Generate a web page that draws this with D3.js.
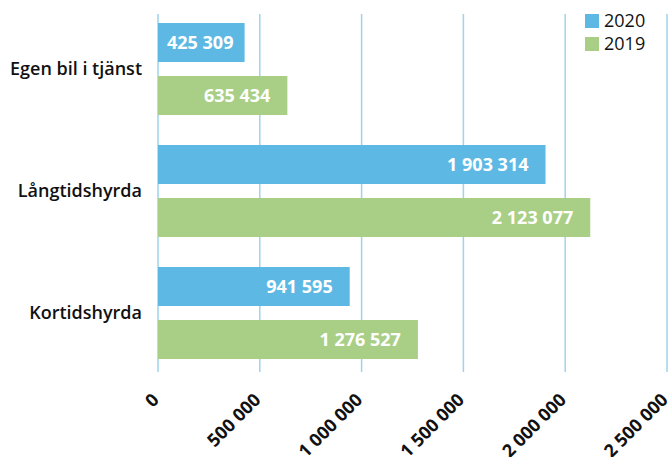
<!DOCTYPE html>
<html>
<head>
<meta charset="utf-8">
<script src="https://cdn.jsdelivr.net/npm/d3@7"></script>
<style>
  body { margin: 0; background: #fff; }
  text { font-family: "Open Sans", Lato, sans-serif; }
</style>
</head>
<body>
<div id="chart"></div>
<script>
// data
var categories = ["Egen bil i tjänst", "Långtidshyrda", "Kortidshyrda"];
var seriesNames = ["2020", "2019"];
var values2020 = [425309, 1903314, 941595];
var values2019 = [635434, 2123077, 1276527];
var tickValues = [0, 500000, 1000000, 1500000, 2000000, 2500000];

var width = 668, height = 457;
var colors = { "2020": "#5db9e3", "2019": "#a9cf87" };

var svg = d3.select("#chart").append("svg")
    .attr("width", width)
    .attr("height", height);

var x = d3.scaleLinear()
    .domain([0, 2500000])
    .range([158, 667]);

var y0 = d3.scaleBand()
    .domain(categories)
    .range([8, 374])
    .paddingInner(0.246)
    .paddingOuter(0.123);

var y1 = d3.scaleBand()
    .domain(seriesNames)
    .range([0, y0.bandwidth()])
    .paddingInner(0.264);

var fmt = function(v) { return d3.format(",")(v).replace(/,/g, " "); };

// gridlines
svg.append("g").selectAll("line")
    .data(tickValues)
  .enter().append("line")
    .attr("x1", function(d) { return x(d); })
    .attr("x2", function(d) { return x(d); })
    .attr("y1", 14)
    .attr("y2", 372)
    .attr("stroke", "#9fd3ea")
    .attr("stroke-width", 1.5);

// tick labels
svg.append("g").selectAll("text")
    .data(tickValues)
  .enter().append("text")
    .attr("transform", function(d) { return "translate(" + (x(d) + 2) + ",401) rotate(-45)"; })
    .attr("text-anchor", "end")
    .attr("font-size", 18)
    .attr("font-weight", "bold")
    .attr("fill", "#111")
    .text(fmt);

// bars
var rows = [];
categories.forEach(function(c, i) {
  rows.push({ cat: c, series: "2020", value: values2020[i] });
  rows.push({ cat: c, series: "2019", value: values2019[i] });
});

var bar = svg.append("g").selectAll("g")
    .data(rows)
  .enter().append("g");

bar.append("rect")
    .attr("x", x(0))
    .attr("y", function(d) { return y0(d.cat) + y1(d.series); })
    .attr("width", function(d) { return x(d.value) - x(0); })
    .attr("height", y1.bandwidth())
    .attr("fill", function(d) { return colors[d.series]; });

bar.append("text")
    .attr("y", function(d) { return y0(d.cat) + y1(d.series) + y1.bandwidth() / 2; })
    .attr("dy", "0.35em")
    .attr("text-anchor", "end")
    .attr("font-size", 18)
    .attr("font-weight", "bold")
    .attr("fill", "#fff")
    .text(function(d) { return fmt(d.value); })
    .attr("x", function(d) {
      var w = this.getComputedTextLength();
      return Math.max(x(d.value) - 17, x(0) + 9 + w);
    });

// category labels
svg.append("g").selectAll("text")
    .data(categories)
  .enter().append("text")
    .attr("x", 142)
    .attr("y", function(d) { return y0(d) + y0.bandwidth() / 2; })
    .attr("dy", "0.35em")
    .attr("text-anchor", "end")
    .attr("font-size", 18)
    .attr("font-weight", 600)
    .attr("fill", "#111")
    .text(function(d) { return d; });

// legend
var legend = svg.append("g").selectAll("g")
    .data(seriesNames)
  .enter().append("g")
    .attr("transform", function(d, i) { return "translate(585," + (14 + i * 23) + ")"; });

legend.append("rect")
    .attr("width", 14)
    .attr("height", 14)
    .attr("fill", function(d) { return colors[d]; });

legend.append("text")
    .attr("x", 19)
    .attr("y", 7)
    .attr("dy", "0.35em")
    .attr("font-size", 18)
    .attr("fill", "#111")
    .text(function(d) { return d; });
</script>
</body>
</html>
